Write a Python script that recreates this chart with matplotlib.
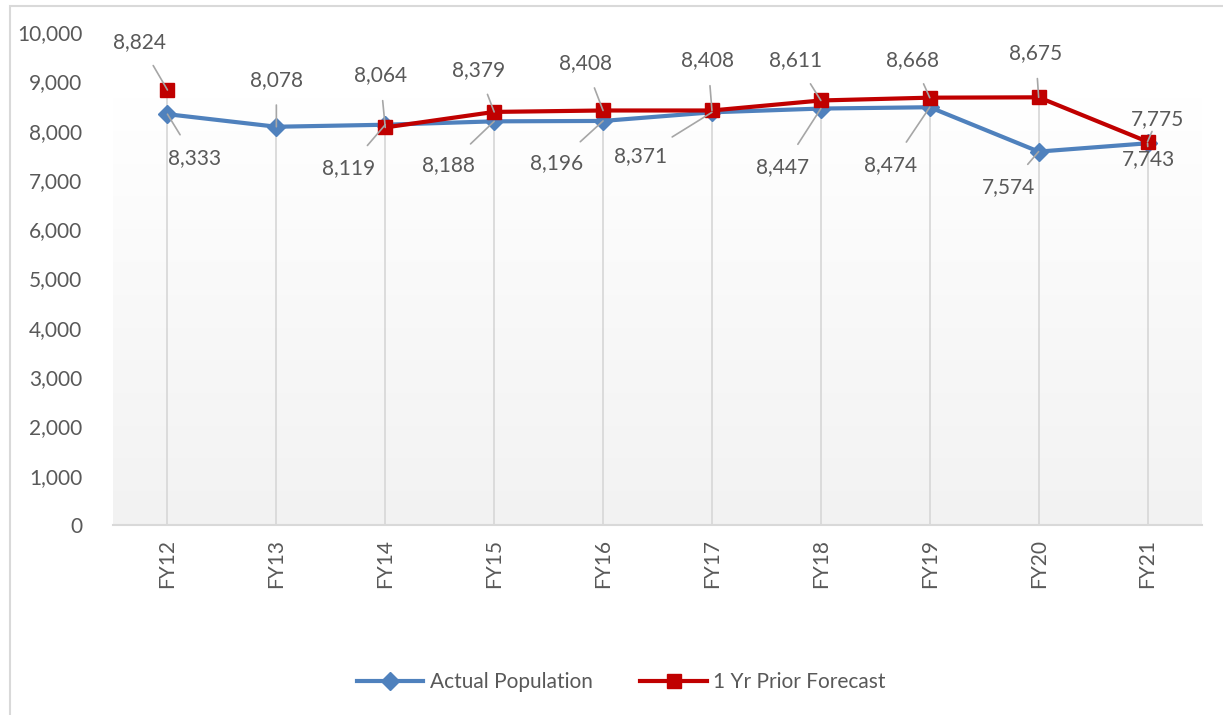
import numpy as np
import matplotlib.pyplot as plt
from matplotlib.colors import LinearSegmentedColormap
from matplotlib.patches import Rectangle
from matplotlib.ticker import FuncFormatter

plt.rcParams['font.family'] = ['Lato', 'DejaVu Sans']

years = ['FY12', 'FY13', 'FY14', 'FY15', 'FY16', 'FY17', 'FY18', 'FY19', 'FY20', 'FY21']
actual = [8333, 8078, 8119, 8188, 8196, 8371, 8447, 8474, 7574, 7743]
forecast = [8824, None, 8064, 8379, 8408, 8408, 8611, 8668, 8675, 7775]

# label offsets in pixels (dx, dy)
actual_off = [(27, -44), (0, 47), (-37, -43), (-46, -44), (-46, -42),
              (-71, -44), (-38, -59), (-39, -58), (-30, -35), (1, -16)]
forecast_off = [(-28, 48), None, (-5, 52), (-16, 42), (-18, 47),
                (-4, 50), (-25, 40), (-17, 38), (-3, 44), (10, 23)]

blue = '#4f81bd'
red = '#c00000'
txt = '#595959'
grid = '#d9d9d9'

fig = plt.figure(figsize=(12.23, 7.15), dpi=100)
fig.patches.append(Rectangle((10 / 1223, -0.1), 1.2, 1.1 - 6 / 715,
                             transform=fig.transFigure, fill=False,
                             edgecolor=grid, linewidth=1.5))
ax = fig.add_axes([113 / 1223, 190 / 715, 1089 / 1223, 493 / 715])
ax.set_facecolor('none')

x = np.arange(len(years))

# gradient backdrop
cmap = LinearSegmentedColormap.from_list('bg', ['#f2f2f2', '#ffffff'])
ax.imshow(np.linspace(0, 1, 256).reshape(-1, 1), cmap=cmap, origin='lower',
          extent=(-0.5, 9.5, 0, 8680), aspect='auto', zorder=0)

# drop lines
tops = [max(a, f or 0) for a, f in zip(actual, forecast)]
ax.vlines(x, 0, tops, color=grid, linewidth=1.3, zorder=1)

fc = np.array([np.nan if v is None else v for v in forecast], dtype=float)

ax.plot(x, actual, color=blue, linewidth=3, marker='D', markersize=9,
        label='Actual Population', zorder=3)
ax.plot(x, fc, color=red, linewidth=3, marker='s', markersize=10,
        label='1 Yr Prior Forecast', zorder=4)

def label(i, v, off):
    ax.annotate(f'{v:,}', (i, v), xytext=off, textcoords='offset pixels',
                ha='center', va='center', fontsize=15, color=txt, zorder=5,
                arrowprops=dict(arrowstyle='-', color='#a6a6a6', lw=1.2,
                                shrinkA=9, shrinkB=0))

for i, v in enumerate(actual):
    label(i, v, actual_off[i])
for i, v in enumerate(forecast):
    if v is not None:
        label(i, v, forecast_off[i])

ax.set_xlim(-0.5, 9.5)
ax.set_ylim(0, 10000)
ax.set_yticks(range(0, 10001, 1000))
ax.yaxis.set_major_formatter(FuncFormatter(lambda v, p: f'{int(v):,}'))
ax.set_xticks(x)
ax.set_xticklabels(years, rotation=90)
ax.tick_params(axis='both', length=0, labelsize=15, labelcolor=txt)
ax.tick_params(axis='x', pad=10)
ax.tick_params(axis='y', pad=22)
for s in ['top', 'right', 'left']:
    ax.spines[s].set_visible(False)
ax.spines['bottom'].set_color(grid)
ax.spines['bottom'].set_linewidth(1.5)

leg = fig.legend(loc='center', bbox_to_anchor=(0.508, 0.046), ncol=2, frameon=False,
                 fontsize=15, handlelength=3.2, columnspacing=2.3, handletextpad=0.3)
for t in leg.get_texts():
    t.set_color(txt)

fig.savefig('out.png', dpi=100)
